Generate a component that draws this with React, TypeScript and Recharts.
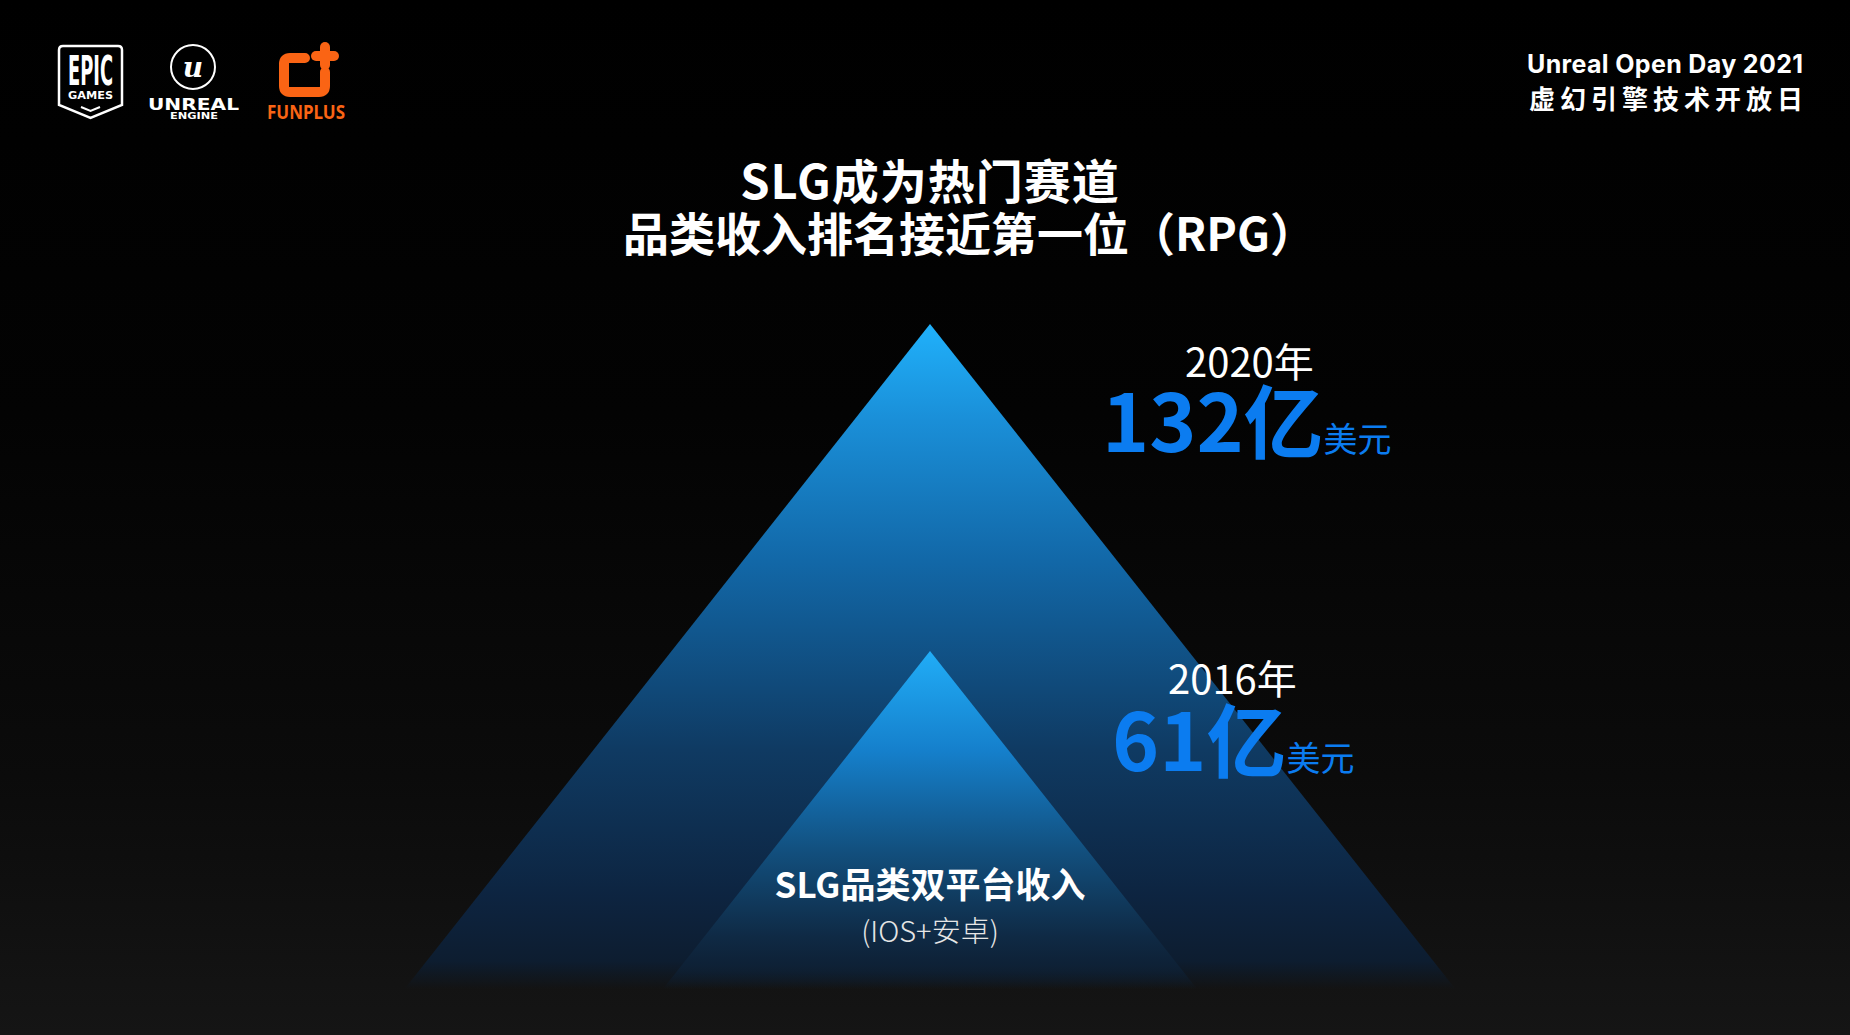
import React from 'react';
import { BarChart, Bar, XAxis, YAxis, LabelList } from 'recharts';

// ---------- data ----------
const categories = ['SLG品类双平台收入'];
const categoryNotes = ['(IOS+安卓)'];
const yearLabels = ['2016年', '2020年'];
const revenue2016 = [61];
const revenue2020 = [132];
const valueUnit = '亿';
const currencyUnit = '美元';
const titleLines = ['SLG成为热门赛道', '品类收入排名接近第一位（RPG）'];
const headerLines = ['Unreal Open Day 2021', '虚幻引擎技术开放日'];
const logoTexts = ['EPIC', 'GAMES', 'U', 'UNREAL', 'ENGINE', 'FUNPLUS'];

const chartData = categories.map((category, i) => ({
  category,
  note: categoryNotes[i],
  y2016: revenue2016[i],
  y2020: revenue2020[i],
}));

// ---------- styles ----------
const W = 1850;
const H = 1035;
const CJK = "'Noto Sans CJK SC', 'Noto Sans', sans-serif";
const BLUE = '#0b7cf0';
const ORANGE = '#fa6414';
const EDGE_SLOPE = 0.79;

const palette2020: [number, string][] = [
  [0, '#20b1fb'],
  [0.15, '#1a8fd8'],
  [0.37, '#1268a8'],
  [0.67, '#0f3a62'],
  [0.9, '#0d2440'],
  [1, '#0d1d30'],
];
const palette2016: [number, string][] = [
  [0, '#21adf7'],
  [0.32, '#1580cc'],
  [0.64, '#12507f'],
  [0.92, '#0f2a45'],
  [1, '#0e2238'],
];

function makeTriangle(id: string, palette: [number, string][]) {
  return (props: any) => {
    const { x, y, width, height, background } = props;
    const cx = x + width / 2;
    const bottom =
      background && typeof background.height === 'number' && background.height > 0
        ? background.y + background.height
        : y + height;
    const h = bottom - y;
    const half = h * EDGE_SLOPE;
    const span = Math.max(1, h - 40);
    const last = palette[palette.length - 1][1];
    return (
      <g>
        <defs>
          <linearGradient id={id} gradientUnits="userSpaceOnUse" x1={cx} y1={y} x2={cx} y2={bottom}>
            {palette.map(([f, c], i) => (
              <stop key={i} offset={(f * span) / h} stopColor={c} stopOpacity={1} />
            ))}
            <stop offset={(h - 50) / h} stopColor={last} stopOpacity={1} />
            <stop offset={(h - 12) / h} stopColor={last} stopOpacity={0} />
            <stop offset={1} stopColor={last} stopOpacity={0} />
          </linearGradient>
        </defs>
        <path d={`M${cx},${y} L${cx + half},${bottom} L${cx - half},${bottom} Z`} fill={`url(#${id})`} />
      </g>
    );
  };
}

function makeValueLabel(
  year: string,
  yearDx: number,
  yearDy: number,
  numDx: number,
  numDy: number,
  numSize: number
) {
  return (props: any) => {
    const vb = props.viewBox && typeof props.viewBox.width === 'number' ? props.viewBox : props;
    const cx = Number(vb.x) + Number(vb.width) / 2;
    const top = Number(vb.y);
    return (
      <g>
        <text x={cx + yearDx} y={top + yearDy} fill="#ffffff" fontSize={40} fontFamily={CJK} fontWeight={400}>
          {year}
        </text>
        <text x={cx + numDx} y={top + numDy} fill={BLUE} fontFamily={CJK}>
          <tspan fontSize={numSize} fontWeight={700}>
            {props.value}
            {valueUnit}
          </tspan>
          <tspan fontSize={34} fontWeight={400}>
            {currencyUnit}
          </tspan>
        </text>
      </g>
    );
  };
}

function makeCategoryLabel(nameDy: number, noteDy: number) {
  return (props: any) => {
    const vb = props.viewBox && typeof props.viewBox.width === 'number' ? props.viewBox : props;
    const cx = Number(vb.x) + Number(vb.width) / 2;
    const top = Number(vb.y);
    const idx = typeof props.index === 'number' ? props.index : 0;
    return (
      <g>
        <text x={cx} y={top + nameDy} textAnchor="middle" fill="#ffffff" fontSize={35} fontWeight={700} fontFamily={CJK}>
          {categories[idx]}
        </text>
        <text x={cx} y={top + noteDy} textAnchor="middle" fill="#e6e6e6" fontSize={29} fontWeight={300} fontFamily={CJK}>
          {categoryNotes[idx]}
        </text>
      </g>
    );
  };
}

function Overlay() {
  return (
    <svg width={W} height={H} style={{ position: 'absolute', left: 0, top: 0, pointerEvents: 'none' }}>
      {/* Epic Games shield */}
      <path
        d="M63,46 L118,46 Q122,46 122,50 L122,105 L90.5,118 L59,105 L59,50 Q59,46 63,46 Z"
        fill="none"
        stroke="#ffffff"
        strokeWidth={2.5}
      />
      <text x={68} y={85} fill="#fff" fontSize={40} fontWeight={700} fontFamily="'DejaVu Sans Condensed', 'DejaVu Sans', sans-serif" textLength={45} lengthAdjust="spacingAndGlyphs">
        {logoTexts[0]}
      </text>
      <text x={68} y={99} fill="#fff" fontSize={10} fontWeight={700} fontFamily="'DejaVu Sans', sans-serif" textLength={45} lengthAdjust="spacingAndGlyphs">
        {logoTexts[1]}
      </text>
      <path d="M81,107 L90.5,111 L100,107" fill="none" stroke="#fff" strokeWidth={2} />

      {/* Unreal Engine */}
      <circle cx={193} cy={67} r={22} fill="#000" stroke="#fff" strokeWidth={2} />
      <text x={193} y={77} textAnchor="middle" fill="#fff" fontSize={28} fontWeight={700} fontStyle="italic" fontFamily="'DejaVu Serif', serif">
        {logoTexts[2].toLowerCase()}
      </text>
      <text x={148} y={110} fill="#fff" fontSize={16} fontWeight={700} fontFamily="'DejaVu Sans', sans-serif" textLength={91} lengthAdjust="spacingAndGlyphs">
        {logoTexts[3]}
      </text>
      <text x={170} y={119} fill="#fff" fontSize={9} fontWeight={700} fontFamily="'DejaVu Sans', sans-serif" textLength={48} lengthAdjust="spacingAndGlyphs">
        {logoTexts[4]}
      </text>

      {/* FunPlus */}
      <path
        d="M305,58 L290,58 Q284,58 284,64 L284,86 Q284,92 290,92 L319,92 Q325,92 325,86 L325,72"
        fill="none"
        stroke={ORANGE}
        strokeWidth={10}
        strokeLinecap="round"
        strokeLinejoin="round"
      />
      <rect x={320} y={42} width={10} height={28} rx={5} fill={ORANGE} />
      <rect x={311} y={51} width={28} height={10} rx={5} fill={ORANGE} />
      <text x={267} y={119} fill={ORANGE} fontSize={19} fontWeight={700} fontFamily="'Noto Sans', sans-serif" textLength={78} lengthAdjust="spacingAndGlyphs">
        {logoTexts[5]}
      </text>

      {/* header */}
      <text x={1527} y={73} fill="#fff" fontSize={25} fontWeight={700} fontFamily="Inter, 'Noto Sans', sans-serif" textLength={276} lengthAdjust="spacing">
        {headerLines[0]}
      </text>
      <text x={1808} y={109} textAnchor="end" fill="#fff" fontSize={26} fontWeight={700} letterSpacing={5} fontFamily={CJK}>
        {headerLines[1]}
      </text>

      {/* title */}
      <text x={930} y={199} textAnchor="middle" fill="#fff" fontSize={47} fontWeight={700} letterSpacing={1} fontFamily={CJK}>
        {titleLines[0]}
      </text>
      <text x={623} y={251} fill="#fff" fontSize={46} fontWeight={700} fontFamily={CJK}>
        {titleLines[1]}
      </text>
    </svg>
  );
}

export default function App() {
  return (
    <div
      style={{
        position: 'absolute',
        left: 0,
        top: 0,
        width: W,
        height: H,
        overflow: 'hidden',
        background: 'linear-gradient(to bottom, #000000 0%, #030303 40%, #0b0b0b 75%, #151515 100%)',
      }}
    >
      <div style={{ position: 'absolute', left: 0, top: 0 }}>
        <BarChart
          width={W}
          height={H}
          data={chartData}
          margin={{ top: 241, right: 0, bottom: 34, left: 10 }}
          barSize={20}
          barGap={-20}
        >
          <XAxis dataKey="category" hide />
          <YAxis type="number" domain={[-15, 150]} hide />
          <Bar dataKey="y2020" isAnimationActive={false} shape={makeTriangle('tri2020', palette2020)}>
            <LabelList dataKey="y2020" content={makeValueLabel(yearLabels[1], 255, 53, 172, 128, 80)} />
          </Bar>
          <Bar dataKey="y2016" isAnimationActive={false} shape={makeTriangle('tri2016', palette2016)}>
            <LabelList dataKey="y2016" content={makeValueLabel(yearLabels[0], 238, 43, 182, 120, 80)} />
            <LabelList dataKey="category" content={makeCategoryLabel(247, 291)} />
          </Bar>
        </BarChart>
      </div>
      <Overlay />
    </div>
  );
}
